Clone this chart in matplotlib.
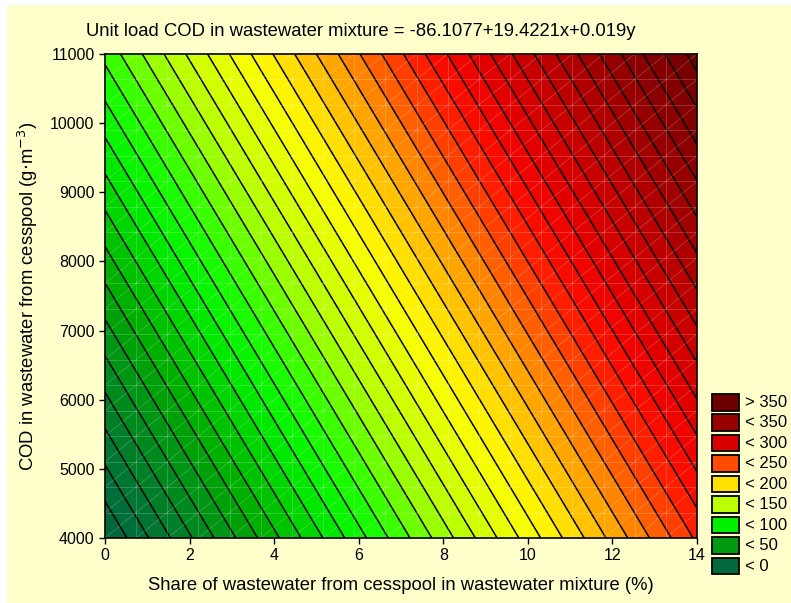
import numpy as np
import matplotlib
matplotlib.use('Agg')
import matplotlib.pyplot as plt
from matplotlib.colors import LinearSegmentedColormap
from matplotlib.patches import Rectangle

plt.rcParams['font.family'] = ['Liberation Sans', 'DejaVu Sans']

# fitted surface: COD load = b0 + b1*x + b2*y
b0, b1, b2 = -86.1077, 19.4221, 0.019
x_range = [0, 14]
y_range = [4000, 11000]
n_nodes = 20

x_ticks = [0, 2, 4, 6, 8, 10, 12, 14]
y_ticks = [4000, 5000, 6000, 7000, 8000, 9000, 10000, 11000]

legend_labels = ['> 350', '< 350', '< 300', '< 250', '< 200', '< 150', '< 100', '< 50', '< 0']
legend_colors = ['#6e0000', '#990000', '#d80000', '#ff4c00', '#ffe000', '#bbff00', '#00f000', '#009a10', '#006a3c']

# colour scale (value -> colour)
stop_values = [-20, 0, 25, 50, 60, 80, 100, 120, 140, 155, 170, 190, 205, 225, 250, 270, 290, 325, 350, 400]
stop_colors = ['#00603e', '#006a3c', '#007f28', '#009a10', '#00a800', '#00cc00', '#00f000', '#22ff00',
               '#88ff00', '#bbff00', '#ddff00', '#ffff00', '#ffe000', '#ffa500', '#ff5000', '#ff1000',
               '#e80000', '#bb0000', '#9a0000', '#6a0000']

line_levels = np.arange(-20, 410, 10)

W, H = 791, 603
fig = plt.figure(figsize=(W / 100, H / 100), dpi=100)
fig.patch.set_facecolor('white')
fig.patches.append(Rectangle((7 / W, 0), 1, 1 - 5 / H, transform=fig.transFigure,
                             facecolor='#ffffcc', edgecolor='none', zorder=-10))

ax = fig.add_axes([105 / W, (H - 538) / H, 592 / W, 484 / H])

xs = np.linspace(x_range[0], x_range[1], n_nodes)
ys = np.linspace(y_range[0], y_range[1], n_nodes)
X, Y = np.meshgrid(xs, ys)
Z = b0 + b1 * X + b2 * Y

vmin, vmax = stop_values[0], stop_values[-1]
cmap = LinearSegmentedColormap.from_list(
    'stat', [((v - vmin) / (vmax - vmin), c) for v, c in zip(stop_values, stop_colors)], N=512)

ax.contourf(X, Y, Z, levels=line_levels, cmap=cmap, vmin=vmin, vmax=vmax)
ax.contour(X, Y, Z, levels=line_levels, colors='black', linewidths=1.1)

# faint data grid
gk = dict(color='white', alpha=0.22, lw=0.6, zorder=3)
for xv in xs[1:-1]:
    ax.plot([xv, xv], y_range, **gk)
for yv in ys[1:-1]:
    ax.plot(x_range, [yv, yv], **gk)
for k in range(-(n_nodes - 2), n_nodes - 1):
    i0, j0 = max(0, k), max(0, -k)
    i1, j1 = min(n_nodes - 1, n_nodes - 1 + k), min(n_nodes - 1, n_nodes - 1 - k)
    ax.plot([xs[i0], xs[i1]], [ys[j0], ys[j1]], **gk)

ax.set_xlim(x_range)
ax.set_ylim(y_range)
ax.set_xticks(x_ticks)
ax.set_yticks(y_ticks)
ax.tick_params(direction='out', length=4, width=1, labelsize=11.5, colors='black')
for s in ax.spines.values():
    s.set_linewidth(1.2)
    s.set_zorder(5)

ax.set_xlabel('Share of wastewater from cesspool in wastewater mixture (%)', fontsize=13.3, labelpad=10)
ax.set_ylabel('COD in wastewater from cesspool (g$\\cdot$m$^{-3}$)', fontsize=13.3, labelpad=7)
fig.text(361 / W, 1 - 31 / H, 'Unit load COD in wastewater mixture = -86.1077+19.4221x+0.019y',
         ha='center', va='center', fontsize=13.3)

# legend
for i, (lab, c) in enumerate(zip(legend_labels, legend_colors)):
    top = 394 + i * 20.45
    fig.patches.append(Rectangle((712 / W, 1 - (top + 16.5) / H), 27 / W, 16.5 / H,
                                 transform=fig.transFigure, facecolor=c,
                                 edgecolor='black', lw=1.3))
    fig.text(745 / W, 1 - (top + 8.5) / H, lab, ha='left', va='center', fontsize=12)

fig.savefig('out.png', dpi=100)
